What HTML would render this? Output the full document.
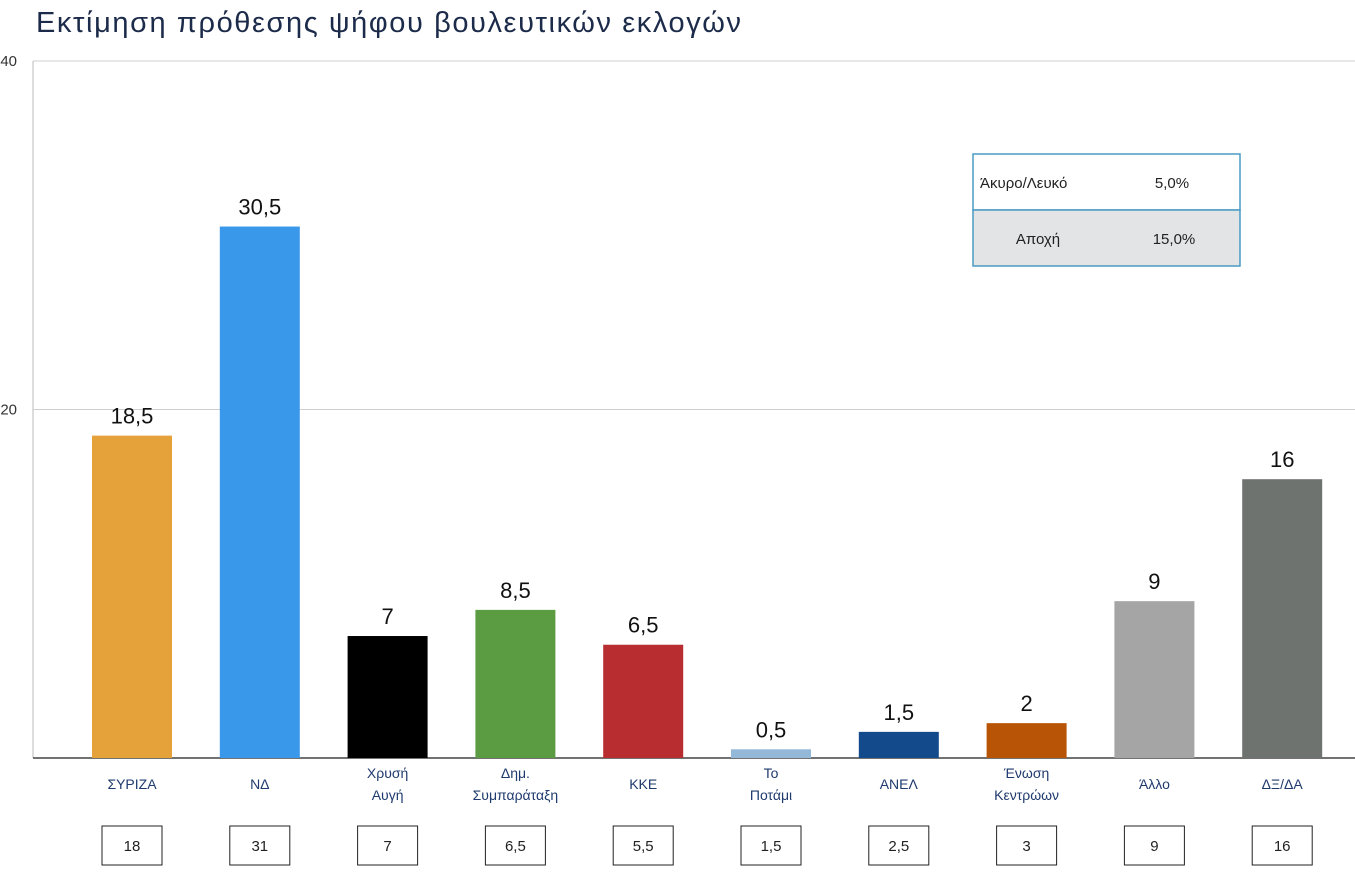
<!DOCTYPE html>
<html><head><meta charset="utf-8"><style>
body{margin:0;background:#fff;width:1355px;height:884px;overflow:hidden}
svg{display:block;font-family:"Liberation Sans","DejaVu Sans",sans-serif}
</style></head><body>
<svg id="c" width="1355" height="884">
<text x="36" y="32" font-size="29" fill="#1c2b4a" textLength="705">Εκτίμηση πρόθεσης ψήφου βουλευτικών εκλογών</text>
<g>
<rect x="973" y="154" width="267" height="56" fill="#fff" stroke="#4a9bc4" stroke-width="1.5"/>
<rect x="973" y="210" width="267" height="56" fill="#e3e4e6" stroke="#4a9bc4" stroke-width="1.5"/>
<text x="980" y="188" font-size="15" fill="#222">Άκυρο/Λευκό</text>
<text x="1172" y="188" font-size="15" fill="#222" text-anchor="middle">5,0%</text>
<text x="1038" y="244" font-size="15" fill="#222" text-anchor="middle">Αποχή</text>
<text x="1174" y="244" font-size="15" fill="#222" text-anchor="middle">15,0%</text>
</g>
</svg>
<script>
const categories=[["ΣΥΡΙΖΑ"],["ΝΔ"],["Χρυσή","Αυγή"],["Δημ.","Συμπαράταξη"],["ΚΚΕ"],["Το","Ποτάμι"],["ΑΝΕΛ"],["Ένωση","Κεντρώων"],["Άλλο"],["ΔΞ/ΔΑ"]];
const values=[18.5,30.5,7,8.5,6.5,0.5,1.5,2,9,16];
const valueLabels=["18,5","30,5","7","8,5","6,5","0,5","1,5","2","9","16"];
const previous=["18","31","7","6,5","5,5","1,5","2,5","3","9","16"];
const colors=["#e5a23a","#3a98ea","#000000","#5b9c42","#b82d2f","#94b9d8","#124a8c","#b85406","#a5a5a5","#6f7370"];
const yTicks=[20,40];
const svg=document.getElementById('c');const NS='http://www.w3.org/2000/svg';
const x0=33,x1=1355,yTop=61,yBot=758,yMax=40;
const y=v=>yBot-(v/yMax)*(yBot-yTop);
const cx=i=>132+127.8*i;
function mk(t,a,txt){const e=document.createElementNS(NS,t);for(const k in a)e.setAttribute(k,a[k]);if(txt!=null)e.textContent=txt;svg.appendChild(e);return e;}
yTicks.forEach(t=>{
 const g=mk('line',{x1:x0,x2:x1,y1:y(t),y2:y(t),stroke:'#cfcfcf','stroke-width':1});
 
 
 const l=mk('text',{x:17,y:y(t)+5,'font-size':15,fill:'#333','text-anchor':'end'},String(t));
 
 
});
const ax=mk('line',{x1:x0,x2:x0,y1:yTop,y2:yBot,stroke:'#bbb'});


const bl=mk('line',{x1:x0,x2:x1,y1:yBot,y2:yBot,stroke:'#444','stroke-width':1.5});


values.forEach((v,i)=>{
 const b=mk('rect',{x:cx(i)-40,y:y(v),width:80,height:yBot-y(v),fill:colors[i]});
 
 
 const t=mk('text',{x:cx(i),y:y(v)-12,'font-size':22,fill:'#111','text-anchor':'middle'},valueLabels[i]);
 
 
 const n=categories[i].length;
 categories[i].forEach((s,j)=>{
  const c=mk('text',{x:cx(i),y:(n===1?789:778)+j*22,'font-size':14,fill:'#1f3a6e','text-anchor':'middle'},s);
  
  
 });
 const r=mk('rect',{x:cx(i)-30,y:826,width:60,height:39,fill:'#fff',stroke:'#222','stroke-width':1});
 
 
 const p=mk('text',{x:cx(i),y:851,'font-size':15,fill:'#222','text-anchor':'middle'},previous[i]);
 
 
});
</script>
</body></html>
